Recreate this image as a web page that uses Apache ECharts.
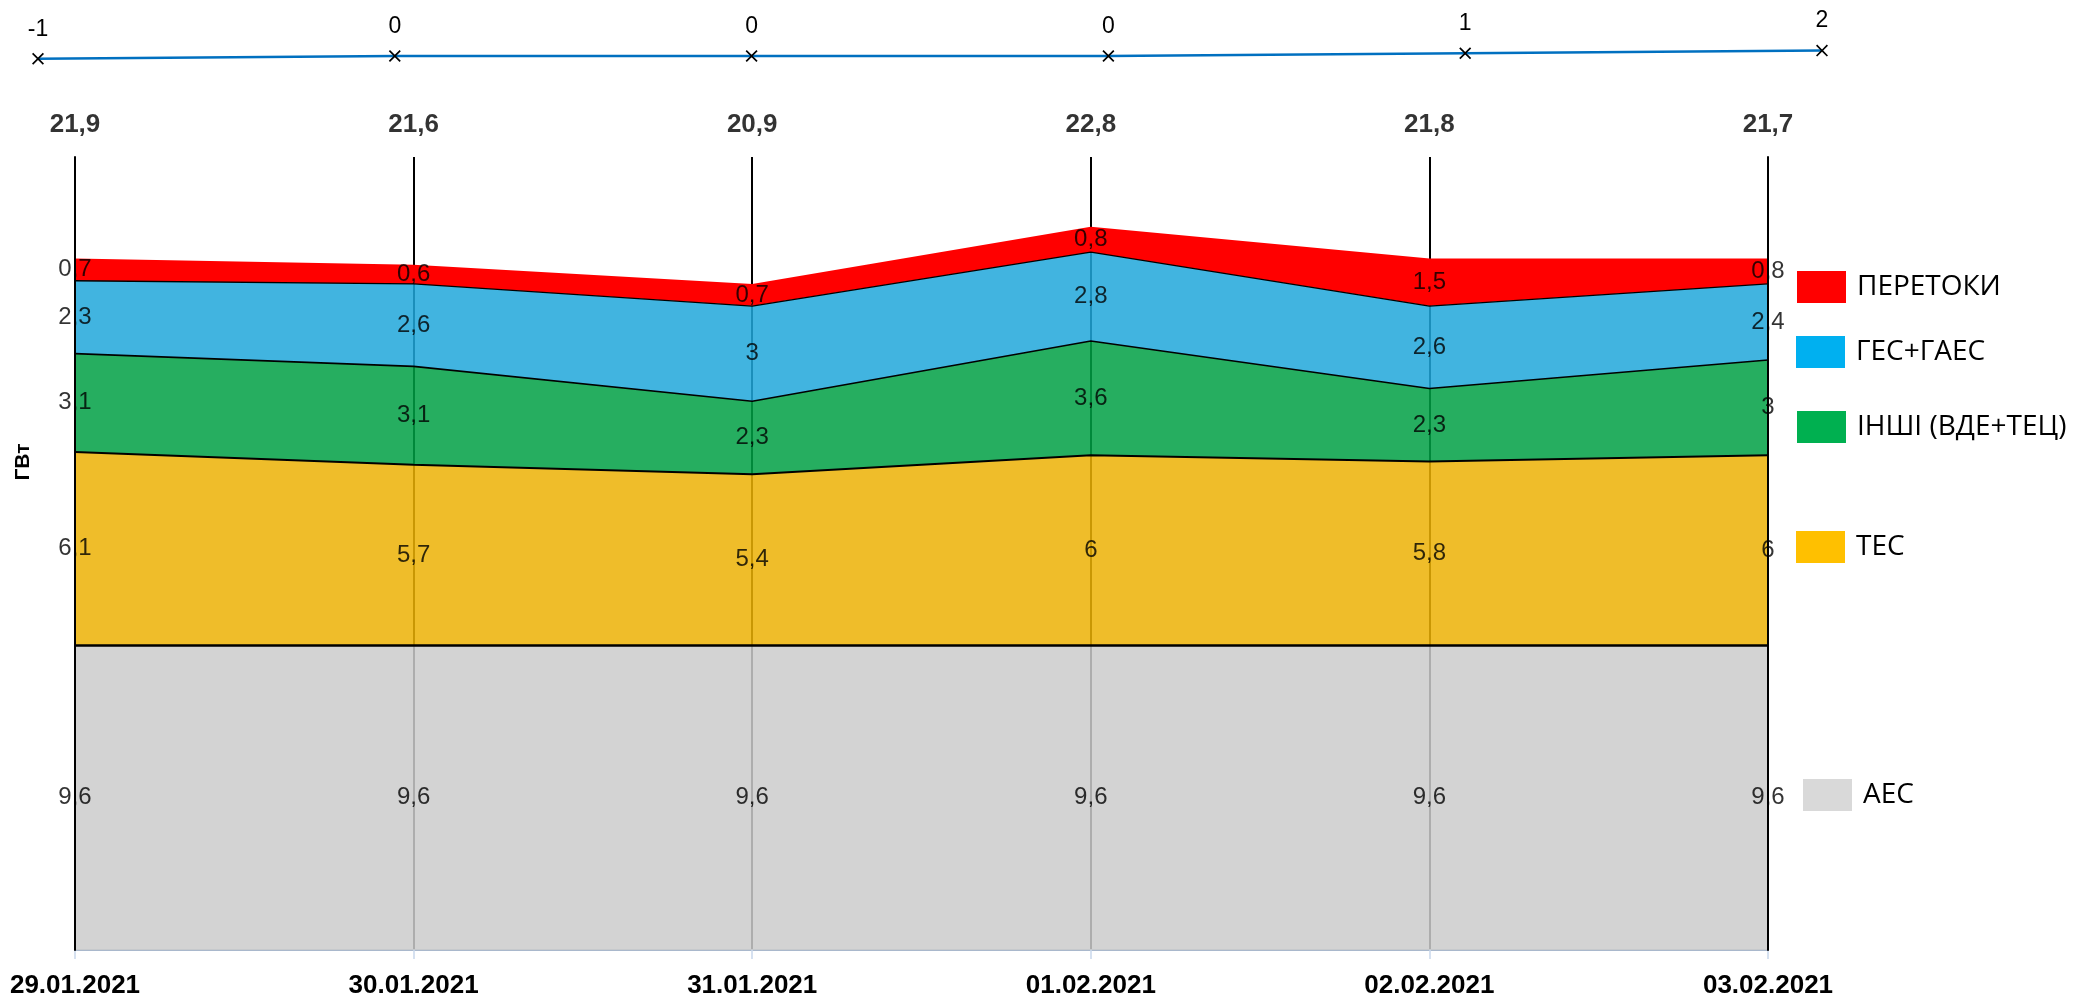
<!DOCTYPE html>
<html>
<head>
<meta charset="utf-8">
<script src="https://cdn.jsdelivr.net/npm/echarts@6/dist/echarts.min.js"></script>
<style>
html,body{margin:0;padding:0;background:#fff;}
#chart{width:2073px;height:1002px;}
</style>
</head>
<body>
<div id="chart"></div>
<script>
const categories = ['29.01.2021','30.01.2021','31.01.2021','01.02.2021','02.02.2021','03.02.2021'];
const aes      = [9.6, 9.6, 9.6, 9.6, 9.6, 9.6];
const tes      = [6.1, 5.7, 5.4, 6, 5.8, 6];
const inshi    = [3.1, 3.1, 2.3, 3.6, 2.3, 3];
const ges      = [2.3, 2.6, 3, 2.8, 2.6, 2.4];
const peretoky = [0.7, 0.6, 0.7, 0.8, 1.5, 0.8];
const totals   = [21.9, 21.6, 20.9, 22.8, 21.8, 21.7];
const balance  = [-1, 0, 0, 0, 1, 2];
const seriesNames = ['АЕС', 'ТЕС', 'ІНШІ (ВДЕ+ТЕЦ)', 'ГЕС+ГАЕС', 'ПЕРЕТОКИ'];

const layerValues = [aes, tes, inshi, ges, peretoky];
const areaColors  = ['#CBCBCB', '#ECB205', '#00A044', '#20A7DB', '#FF0000'];
const areaOpacity = [0.85, 0.85, 0.85, 0.85, 1];
const legendColors= ['#D9D9D9', '#FFC000', '#00B050', '#00B0F0', '#FF0000'];
const lineWidths  = [2.7, 2, 1.6, 1.4, 0];
const legendPos   = [[1803, 779], [1796, 531], [1797, 411], [1796, 336], [1797, 271]];

const fmt = v => String(v).replace('.', ',');

const chart = echarts.init(document.getElementById('chart'));

const series = [];
const cum = categories.map(() => 0);
layerValues.forEach((vals, k) => {
  series.push({
    name: seriesNames[k],
    type: 'line',
    xAxisIndex: 0, yAxisIndex: 0,
    stack: 'total',
    data: vals,
    showSymbol: false,
    symbol: 'none',
    z: 7 - k,
    lineStyle: { color: '#000', width: lineWidths[k], opacity: lineWidths[k] ? 1 : 0 },
    areaStyle: { color: areaColors[k], opacity: areaOpacity[k] },
    itemStyle: { color: legendColors[k] },
    emphasis: { disabled: true }
  });
  const mids = vals.map((v, i) => cum[i] + v / 2);
  series.push({
    type: 'scatter',
    xAxisIndex: 0, yAxisIndex: 0,
    data: mids,
    symbolSize: 0,
    z: 20,
    silent: true,
    label: {
      show: true, position: 'inside',
      formatter: p => fmt(vals[p.dataIndex]),
      color: '#000', fontSize: 24, fontFamily: 'Liberation Sans'
    }
  });
  vals.forEach((v, i) => { cum[i] += v; });
});

// totals labels above vertical lines
series.push({
  type: 'scatter',
  xAxisIndex: 0, yAxisIndex: 0,
  data: categories.map(() => 25),
  symbolSize: 0,
  clip: false,
  z: 20,
  silent: true,
  label: {
    show: true, position: 'top', distance: 19,
    formatter: p => fmt(totals[p.dataIndex]),
    color: '#000', fontSize: 26, fontWeight: 'bold', fontFamily: 'Liberation Sans'
  }
});

// top balance line
series.push({
  type: 'line',
  xAxisIndex: 1, yAxisIndex: 2,
  data: balance,
  symbol: 'path://M0,1L1,0L5,4L9,0L10,1L6,5L10,9L9,10L5,6L1,10L0,9L4,5Z',
  symbolSize: 12,
  showSymbol: true,
  lineStyle: { color: '#0070C0', width: 2.5 },
  itemStyle: { color: '#000' },
  label: {
    show: true, position: 'top', distance: 12,
    formatter: p => fmt(p.value),
    color: '#000', fontSize: 23, fontFamily: 'Liberation Sans'
  },
  z: 10
});

const legends = seriesNames.map((name, k) => ({
  left: legendPos[k][0], top: legendPos[k][1],
  padding: 0,
  orient: 'vertical',
  icon: 'rect',
  itemWidth: 49, itemHeight: 32,
  selectedMode: false,
  data: [{ name: name, itemStyle: { color: legendColors[k], borderWidth: 0 } }],
  textStyle: { color: '#000', fontSize: 28, fontFamily: 'Open Sans', padding: [0, 0, 0, 6] }
}));

chart.setOption({
  animation: false,
  backgroundColor: '#fff',
  grid: [
    { left: 75, right: 305, top: 157, bottom: 52 },
    { left: 38, right: 251, top: 29, height: 54 }
  ],
  xAxis: [
    {
      type: 'category', gridIndex: 0, data: categories, boundaryGap: false,
      axisLine: { show: true, lineStyle: { color: '#A9B8CC', width: 2 } },
      axisTick: { show: true, length: 9, lineStyle: { color: '#C9D8EC', width: 1.5 } },
      axisLabel: { color: '#000', fontSize: 26, fontWeight: 'bold', fontFamily: 'Liberation Sans', margin: 23 },
      splitLine: { show: true, lineStyle: { color: '#000', width: 2 } }
    },
    {
      type: 'category', gridIndex: 1, data: categories, boundaryGap: false, show: false
    }
  ],
  yAxis: [
    {
      type: 'value', gridIndex: 0, min: 0, max: 25, position: 'left', z: 8,
      axisLine: { show: true, lineStyle: { color: '#000', width: 2 } },
      axisTick: { show: false }, axisLabel: { show: false }, splitLine: { show: false }
    },
    {
      type: 'value', gridIndex: 0, min: 0, max: 25, position: 'right', z: 8,
      axisLine: { show: true, lineStyle: { color: '#000', width: 2 } },
      axisTick: { show: false }, axisLabel: { show: false }, splitLine: { show: false }
    },
    {
      type: 'value', gridIndex: 1, min: -10, max: 10, show: false
    }
  ],
  legend: legends,
  graphic: [{
    type: 'text',
    x: 23, y: 462,
    rotation: Math.PI / 2,
    style: {
      text: 'ГВт', x: 0, y: 0,
      textAlign: 'center', textVerticalAlign: 'middle',
      font: 'bold 21px "Liberation Sans"', fill: '#000'
    }
  }],
  series: series
});
</script>
</body>
</html>
